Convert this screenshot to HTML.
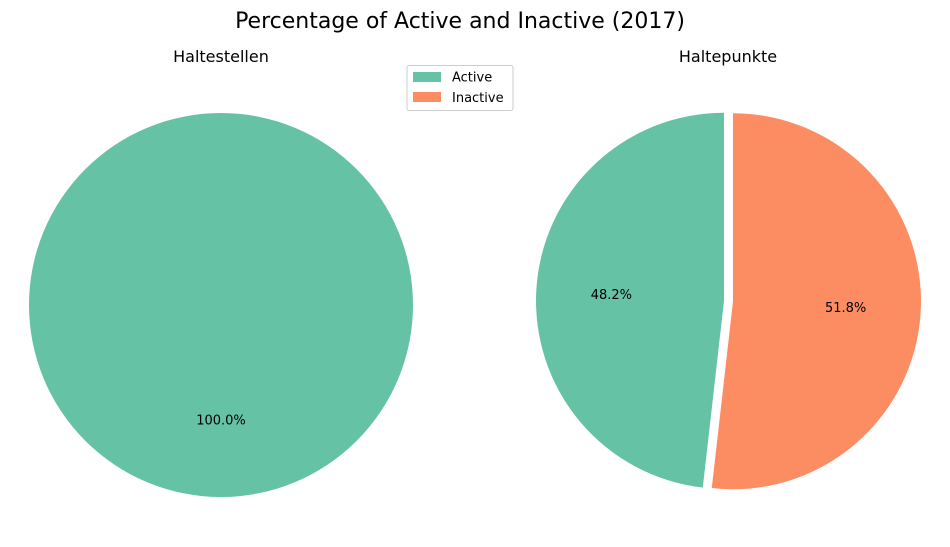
<!DOCTYPE html>
<html><head><meta charset="utf-8"><style>
body{margin:0;background:#fff;}
svg text{font-family:"DejaVu Sans","Liberation Sans",sans-serif;}
</style></head><body>
<svg id="chart" width="950" height="542" xmlns="http://www.w3.org/2000/svg">
<rect width="950" height="542" fill="#fff"/>
<text x="460" y="28" font-size="22" text-anchor="middle">Percentage of Active and Inactive (2017)</text>
<text x="221" y="62" font-size="16" text-anchor="middle">Haltestellen</text>
<text x="728" y="62" font-size="16" text-anchor="middle">Haltepunkte</text>
<g id="pies"></g>
<g>
<rect x="407" y="65.5" width="106" height="45" fill="#fff" stroke="#ccc" rx="2"/>
<rect x="413" y="72" width="28" height="10" fill="#66c2a5"/>
<text x="452" y="81.5" font-size="13">Active</text>
<rect x="413" y="92" width="28" height="10" fill="#fc8d62"/>
<text x="452" y="102" font-size="13">Inactive</text>
</g>
</svg>
<script>
const categories = ["Active", "Inactive"];
const haltestellenValues = [100.0, 0.0];
const haltepunkteValues = [48.2, 51.8];
const colors = ["#66c2a5", "#fc8d62"];
const NS = "http://www.w3.org/2000/svg";
const g = document.getElementById("pies");
function drawPie(vals, cx, cy, r, explode, name) {
  const total = vals.reduce((a, b) => a + b, 0);
  let start = 90;
  vals.forEach((v, i) => {
    if (v <= 0) return;
    const sweep = v / total * 360;
    const mid = (start + sweep / 2) * Math.PI / 180;
    const ox = cx + explode * Math.cos(mid), oy = cy - explode * Math.sin(mid);
    let el;
    if (sweep >= 359.999) {
      el = document.createElementNS(NS, "circle");
      el.setAttribute("cx", ox); el.setAttribute("cy", oy); el.setAttribute("r", r);
    } else {
      const a1 = start * Math.PI / 180, a2 = (start + sweep) * Math.PI / 180;
      const x1 = ox + r * Math.cos(a1), y1 = oy - r * Math.sin(a1);
      const x2 = ox + r * Math.cos(a2), y2 = oy - r * Math.sin(a2);
      el = document.createElementNS(NS, "path");
      el.setAttribute("d", `M${ox},${oy} L${x1},${y1} A${r},${r} 0 ${sweep > 180 ? 1 : 0} 0 ${x2},${y2} Z`);
    }
    el.setAttribute("fill", colors[i]);
    
    
    g.appendChild(el);
    const t = document.createElementNS(NS, "text");
    t.setAttribute("x", ox + 0.6 * r * Math.cos(mid));
    t.setAttribute("y", oy - 0.6 * r * Math.sin(mid) + 4.5);
    t.setAttribute("font-size", "13");
    t.setAttribute("text-anchor", "middle");
    t.textContent = v.toFixed(1) + "%";
    
    
    g.appendChild(t);
    start += sweep;
  });
}
drawPie(haltestellenValues, 221, 305, 192, 0, "haltestellen");
drawPie(haltepunkteValues, 728.5, 301, 188, 4.5, "haltepunkte");
</script>
</body></html>
